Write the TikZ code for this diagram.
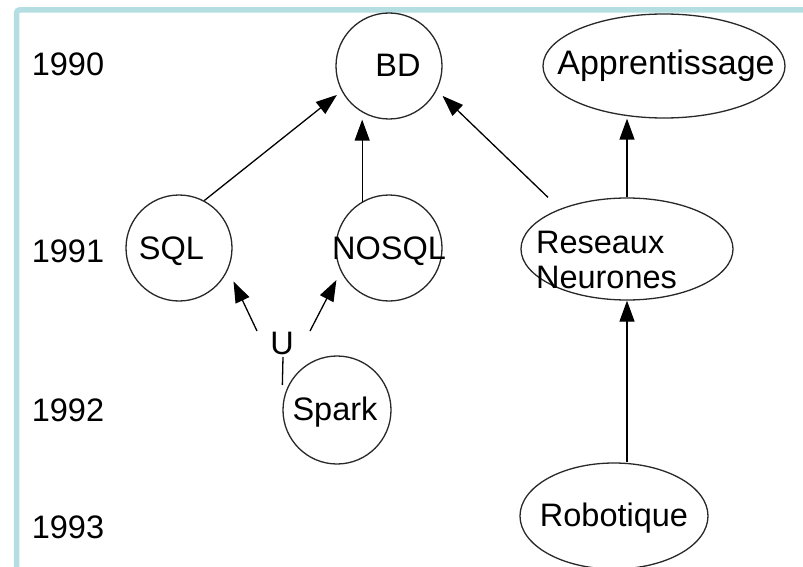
\documentclass[tikz,border=0pt]{standalone}
\usepackage{fontspec}
\setmainfont{Liberation Sans}
\usetikzlibrary{arrows.meta,calc,shapes.geometric}
\definecolor{frameblue}{RGB}{180,222,226}
\definecolor{outline}{RGB}{40,40,40}
\begin{document}
\begin{tikzpicture}[x=1pt,y=-1pt,
  every node/.style={font=\fontsize{32.5}{35}\selectfont},
  circ/.style={draw=outline, line width=1.3pt, circle, inner sep=0pt, minimum size=#1},
  ell/.style 2 args={draw=outline, line width=1.3pt, ellipse, inner sep=0pt,
    minimum width=#1, minimum height=#2},
  arr/.style={draw=black, line width=1.3pt, -{Triangle[length=21pt,width=15pt]}},
  link/.style={draw=black, line width=1.3pt},
  year/.style={inner sep=0pt},
]
\clip (0,0) rectangle (803,567);

% frame along the top and left edges
\draw[frameblue, line width=5.5pt, rounded corners=3pt] (16.5,600) -- (16.5,10) -- (850,10);

% year column
\node[year] (y1990) at (68,64)  {1990};
\node[year] (y1991) at (68,251) {1991};
\node[year] (y1992) at (68,410) {1992};
\node[year] (y1993) at (68,527) {1993};

% topics
\node[circ=106, label={[xshift=9pt,yshift=1pt]center:BD}] (bd) at (389,66) {};
\node[ell={242}{104}, label={[xshift=2pt,font=\fontsize{34}{35}\selectfont]center:Apprentissage}] (app) at (664,66) {};
\node[circ=106, label={[xshift=-7.5pt,yshift=-3pt]center:SQL}] (sql) at (179,248) {};
\node[circ=106, label={[yshift=-3pt]center:NOSQL}] (nosql) at (389,248) {};
\node[ell={212}{102}, label={[align=left,xshift=-20.5pt,yshift=-11pt]center:{Reseaux\\Neurones}}] (res) at (627,249) {};
\node[circ=108, label={[xshift=-2pt,yshift=-2pt]center:Spark}] (spark) at (337,410) {};
\node[ell={188}{106}, label={[yshift=-2pt]center:Robotique}] (rob) at (614,516) {};
\node[inner sep=0pt] (u) at (282,343) {U};

% free line ends
\coordinate (resTL) at ($(res.north)+(-79,0)$);
\coordinate (uL) at ($(u)+(-25,-12)$);
\coordinate (uR) at ($(u)+(28,-12)$);
\coordinate (uD) at ($(u)+(1,14)$);
\coordinate (sparkL) at ($(spark.west)+(0,-25)$);

% connectors
\draw[arr, shorten >=6pt] (sql.62) -- (bd.208);
\draw[arr] (nosql.120) -- (nosql.120 |- bd.south);
\draw[arr, shorten >=8pt] (resTL) -- (bd.333);
\draw[arr] (res.north) -- (res.north |- app.south);
\draw[arr] (rob.north -| res.south) -- (res.south);
\draw[arr, shorten >=12.8pt] (uL) -- (sql.336);
\draw[arr, shorten >=9.6pt] (uR) -- (nosql.206);
\draw[link] (uD) -- (sparkL);
\end{tikzpicture}
\end{document}
